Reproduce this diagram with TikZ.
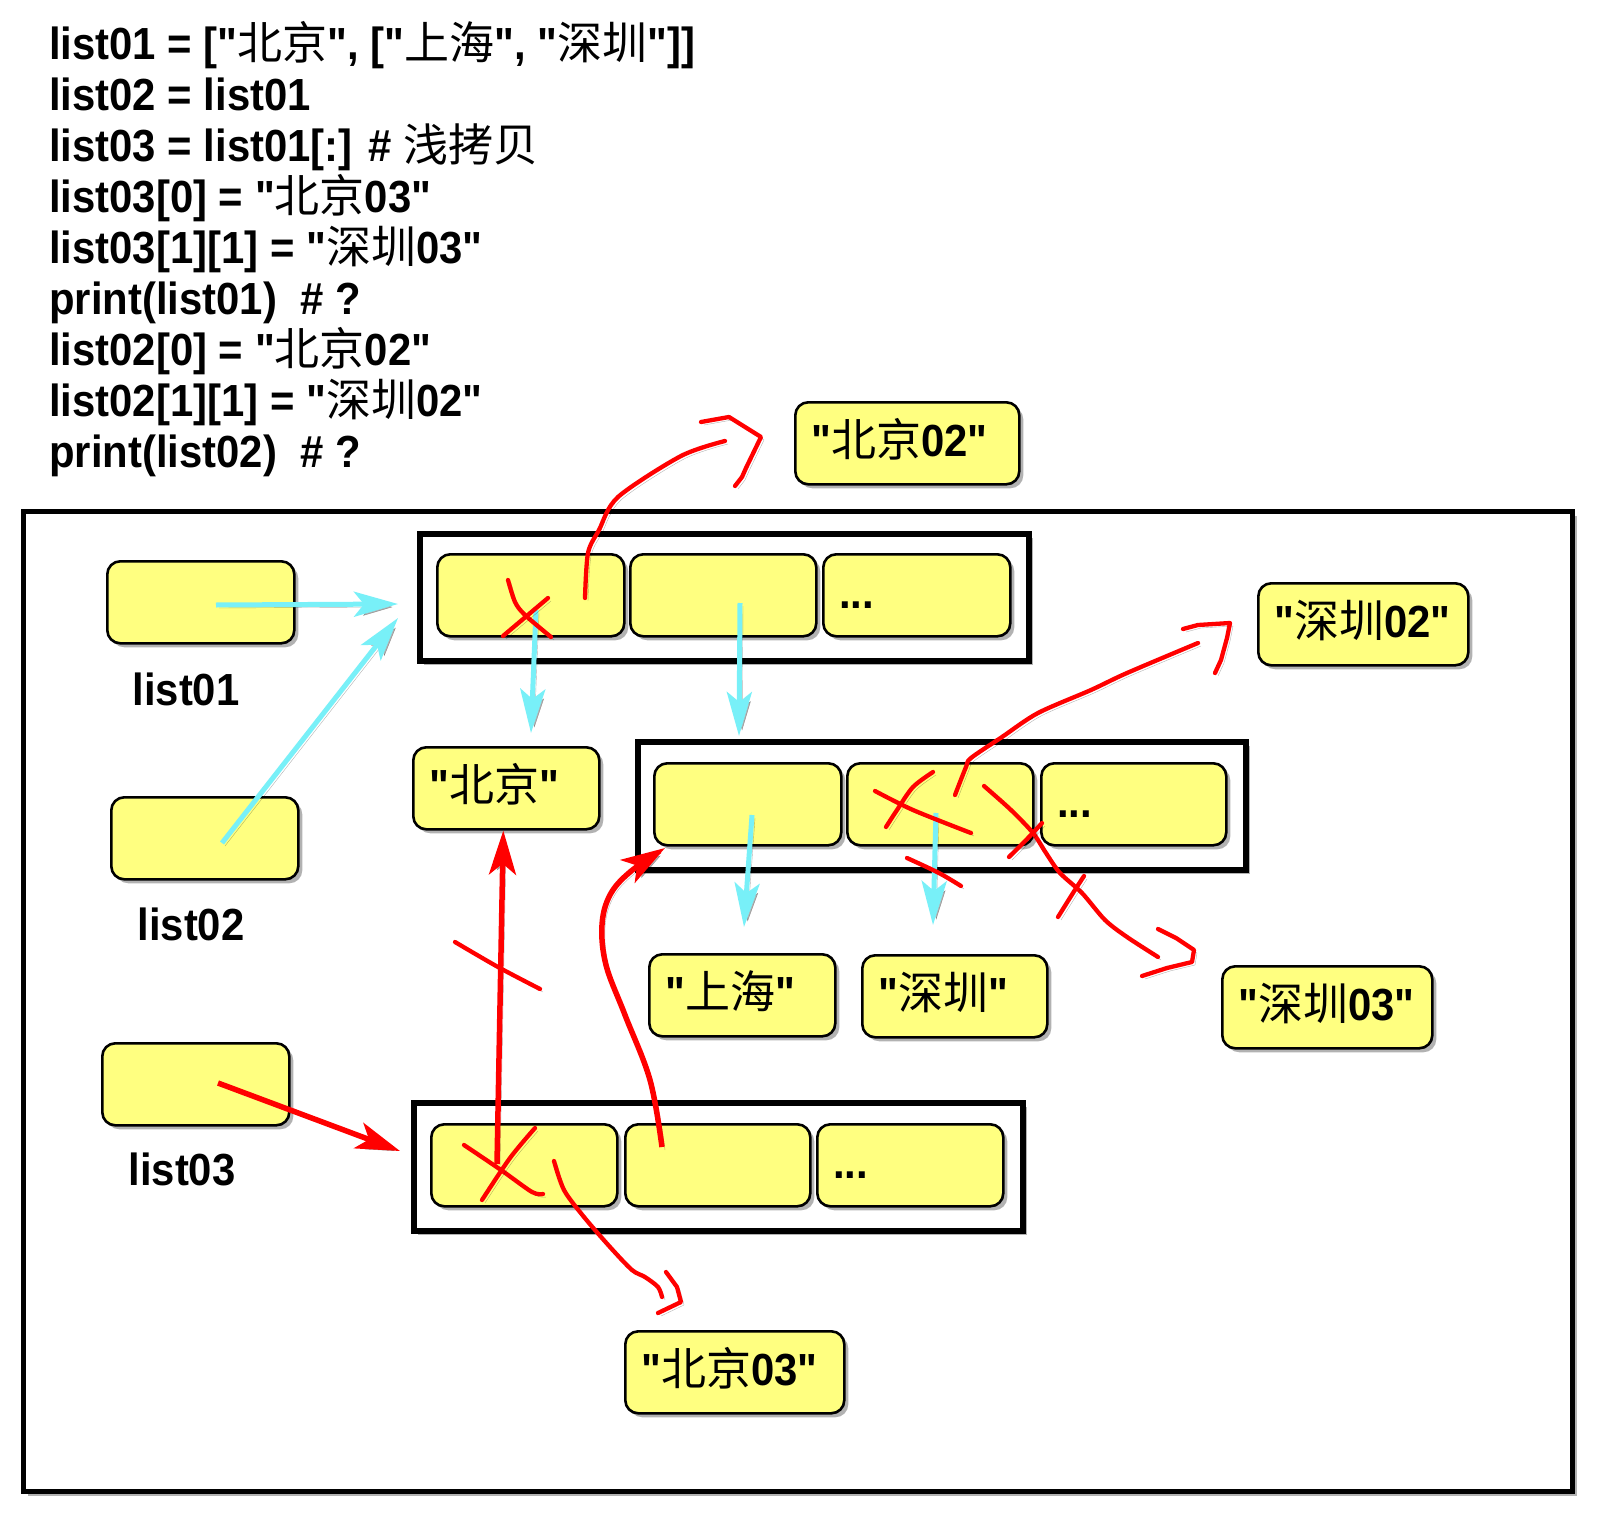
\documentclass[tikz,border=0pt]{standalone}
\usepackage{fontspec}
\setmainfont{Liberation Sans}[FakeStretch=0.93, Ligatures=TeXOff]
\newfontfamily\zhfont{Noto Sans CJK SC}
\newcommand\zh[1]{{\zhfont\mdseries #1}}
\usetikzlibrary{arrows.meta,shadows}
\definecolor{yel}{RGB}{255,255,128}
\definecolor{cy}{RGB}{120,240,248}
\definecolor{rd}{RGB}{255,0,0}
\tikzset{
  base/.style={font=\fontsize{45}{51}\selectfont\bfseries},
  shd/.style={drop shadow={shadow xshift=4pt, shadow yshift=-4pt, fill=black, opacity=0.3}},
  ybox/.style={draw=black, fill=yel, line width=2.6pt, rounded corners=13pt, anchor=north west,
    inner xsep=16pt, inner ysep=0pt, text width=#1, align=left, text height=54pt, text depth=28pt, shd, base},
  cont/.style 2 args={draw=black, fill=white, line width=5.5pt, anchor=north west, inner sep=0pt,
    minimum width=#1, minimum height=#2, shd},
  lsh/.style={preaction={draw=black, draw opacity=0.3, fill opacity=0.3, transform canvas={xshift=3pt, yshift=-3pt}}},
  cyarrow/.style={draw=cy, line width=5pt, -{Stealth[length=44pt, width=25pt, inset=10pt]}, lsh},
  rdarrow/.style={draw=rd, line width=5.5pt, -{Stealth[length=44pt, width=27pt, inset=11pt]}, lsh},
  freehand/.style={draw=rd, line width=4.3pt, line cap=round, line join=round, lsh},
  code/.style={base, anchor=base west, inner sep=0pt},
  lbl/.style={base, anchor=base, inner sep=0pt},
}
\begin{document}
\begin{tikzpicture}[x=1pt,y=-1pt]
\fill[white] (0,0) rectangle (1609,1538);
\useasboundingbox (0,0) rectangle (1609,1538);

% code lines
\node[code] (t1) at (49,60)    {list01 = ["\zh{北京}", ["\zh{上海}", "\zh{深圳}"]]};
\node[code] (t2) at (49,110.9) {list02 = list01};
\node[code] (t3) at (49,161.8) {list03 = list01[:] \# \zh{浅拷贝}};
\node[code] (t4) at (49,212.7) {list03[0] = "\zh{北京}03"};
\node[code] (t5) at (49,263.6) {list03[1][1] = "\zh{深圳}03"};
\node[code] (t6) at (49,314.5) {print(list01)~~\# ?};
\node[code] (t7) at (49,365.4) {list02[0] = "\zh{北京}02"};
\node[code] (t8) at (49,416.3) {list02[1][1] = "\zh{深圳}02"};
\node[code] (t9) at (49,467.2) {print(list02)~~\# ?};

% outer frame
\node[cont={1549pt}{980pt}, line width=5pt] (frame) at (21,509) {};

% variables
\node[ybox=155pt] (l1) at (106,560) {};
\node[ybox=155pt] (l2) at (110,796) {};
\node[ybox=155pt] (l3) at (101,1042) {};
\node[lbl] (l1t) at (186,705)  {list01};
\node[lbl] (l2t) at (191,940)  {list02};
\node[lbl] (l3t) at (182,1185) {list03};

% list01 object
\node[cont={609pt}{127pt}] (A) at (417,531) {};
\node[ybox=155pt] (a1) at (436,553) {};
\node[ybox=154pt] (a2) at (629,553) {};
\node[ybox=155pt] (a3) at (822,553) {...};

% nested list
\node[cont={608pt}{128pt}] (B) at (635,739) {};
\node[ybox=155pt] (b1) at (653,762) {};
\node[ybox=154pt] (b2) at (846,762) {};
\node[ybox=153pt] (b3) at (1040,762) {...};

% list03 object
\node[cont={609pt}{128pt}] (C) at (411,1100) {};
\node[ybox=154pt] (c1) at (430,1123) {};
\node[ybox=153pt] (c2) at (624,1123) {};
\node[ybox=154pt] (c3) at (816,1123) {...};

% strings
\node[ybox=192pt] (s02) at (794,401)  {"\zh{北京}02"};
\node[ybox=154pt] (sbj) at (412,746)  {"\zh{北京}"};
\node[ybox=154pt] (ssh) at (648,953)  {"\zh{上海}"};
\node[ybox=153pt] (ssz) at (861,954)  {"\zh{深圳}"};
\node[ybox=178pt] (sz2) at (1257,582) {"\zh{深圳}02"};
\node[ybox=178pt] (sz3) at (1221,965) {"\zh{深圳}03"};
\node[ybox=187pt] (s03) at (624,1330) {"\zh{北京}03"};

% cyan references
\coordinate (c1s) at (216,605);  \coordinate (c1e) at (398,604);
\coordinate (c2s) at (222,843);  \coordinate (c2e) at (398,618);
\coordinate (c3s) at (536,610);  \coordinate (c3e) at (531,733);
\coordinate (c4s) at (740,603);  \coordinate (c4e) at (739,736);
\coordinate (c5s) at (752,815);  \coordinate (c5e) at (744,927);
\coordinate (c6s) at (936,813);  \coordinate (c6e) at (933,925);
\draw[cyarrow] (c1s) -- (c1e);
\draw[cyarrow] (c2s) -- (c2e);
\draw[cyarrow] (c3s) -- (c3e);
\draw[cyarrow] (c4s) -- (c4e);
\draw[cyarrow] (c5s) -- (c5e);
\draw[cyarrow] (c6s) -- (c6e);

% red references of list03
\coordinate (r1s) at (218,1083); \coordinate (r1e) at (400,1151);
\coordinate (r2s) at (497,1164);
\coordinate (r3s) at (662,1147); \coordinate (r3e) at (665,848);
\draw[rdarrow] (r1s) -- (r1e);
\draw[rdarrow] (r2s) -- ([xshift=-3pt]sbj.south);
\draw[rdarrow] plot[smooth, tension=0.6] coordinates {(r3s) (650,1080) (625,1015) (606,965) (602,925) (610,895) (630,872) (r3e)};

% freehand: list02[0] = "北京02"
\draw[freehand] plot[smooth, tension=0.5] coordinates {(508,580) (515,602) (525,615) (551,637)};
\draw[freehand] (503,636) -- (548,598);
\draw[freehand] plot[smooth, tension=0.5] coordinates {(585,598) (588,553) (599,530) (618,497) (681,456) (725,441)};
\draw[freehand] (701,422) -- (729,417) -- (761,437) -- (746,468) -- (742,477) -- (735,486);

% freehand: list02[1][1] = "深圳02"
\draw[freehand] plot[smooth, tension=0.5] coordinates {(933,772) (913,787) (897,810) (886,827)};
\draw[freehand] plot[smooth, tension=0.5] coordinates {(875,791) (913,810) (971,833)};
\draw[freehand] plot[smooth, tension=0.5] coordinates {(955,795) (966,767) (971,758) (1002,737) (1038,713) (1091,690) (1127,673) (1198,643)};
\draw[freehand] (1183,629) -- (1198,625) -- (1230,623) -- (1227,638) -- (1221,660) -- (1215,673);
\draw[freehand] plot[smooth, tension=0.5] coordinates {(907,858) (939,873) (961,886)};

% freehand: list03[1][1] = "深圳03"
\draw[freehand] plot[smooth, tension=0.5] coordinates {(984,786) (1011,810) (1033,833) (1046,853) (1060,873) (1082,893) (1105,920) (1127,937) (1158,957)};
\draw[freehand] (1158,929) -- (1176,938) -- (1194,950) -- (1192,962) -- (1167,968) -- (1142,976);
\draw[freehand] plot[smooth, tension=0.5] coordinates {(1042,823) (1029,837) (1009,857)};
\draw[freehand] plot[smooth, tension=0.5] coordinates {(1084,876) (1073,893) (1058,917)};

% freehand: list03[0] = "北京03"
\draw[freehand] plot[smooth, tension=0.5] coordinates {(455,942) (498,967) (540,989)};
\draw[freehand] plot[smooth, tension=0.5] coordinates {(464,1145) (501,1170) (532,1192) (543,1194)};
\draw[freehand] plot[smooth, tension=0.5] coordinates {(535,1128) (510,1158) (482,1200)};
\draw[freehand] plot[smooth, tension=0.5] coordinates {(554,1161) (564,1190) (584,1217) (610,1247) (632,1270) (645,1277) (658,1287) (662,1297)};
\draw[freehand] (666,1272) -- (677,1287) -- (681,1302) -- (658,1313);
\end{tikzpicture}
\end{document}
